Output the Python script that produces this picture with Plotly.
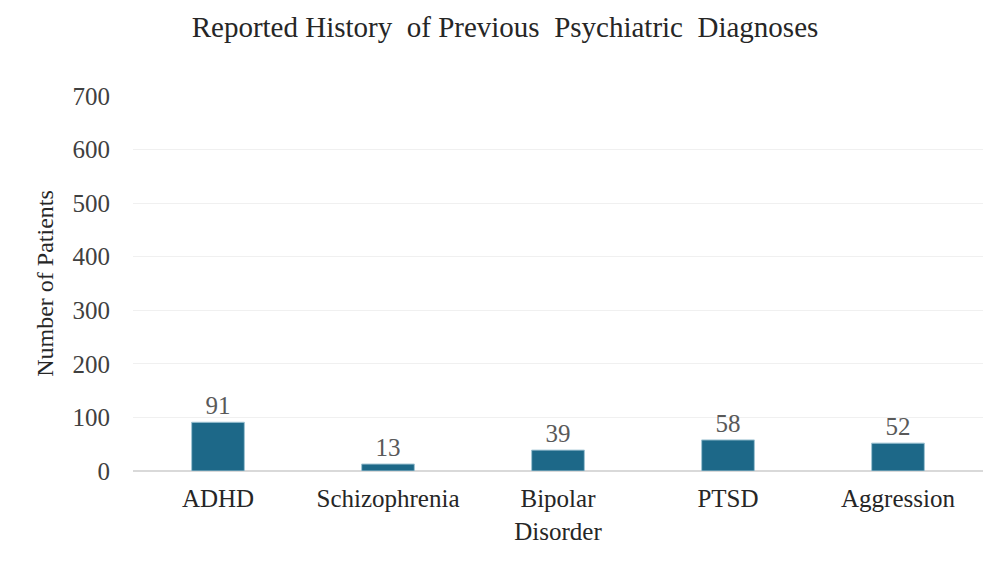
import plotly.graph_objects as go

categories = ["ADHD", "Schizophrenia", "Bipolar<br>Disorder", "PTSD", "Aggression"]
values = [91, 13, 39, 58, 52]
y_ticks = [0, 100, 200, 300, 400, 500, 600, 700]

fig = go.Figure(go.Bar(
    x=categories, y=values,
    marker=dict(color="#1d6888", line=dict(color="#9fc3d3", width=1)),
    width=0.31,
    text=[str(v) for v in values], textposition="outside",
    textfont=dict(family="Liberation Serif", size=25, color="#595959"),
    cliponaxis=False,
))

# page body has an 8px margin, so the figure is offset by 8px
fig.update_layout(
    width=994, height=555,
    margin=dict(l=125, r=19, t=88, b=92),
    paper_bgcolor="white", plot_bgcolor="white",
    title=dict(text="Reported History  of Previous  Psychiatric  Diagnoses",
               x=0.5, xanchor="center", y=0.966, yanchor="middle",
               font=dict(family="Liberation Serif", size=29, color="#262626")),
    font=dict(family="Liberation Serif", color="#262626"),
    showlegend=False,
)
fig.update_xaxes(tickfont=dict(size=25, color="#262626"), showline=False,
                 ticks="", showgrid=False, ticklabelstandoff=10)
fig.update_yaxes(range=[0, 700], tickvals=y_ticks, ticktext=[str(t) for t in y_ticks],
                 tickfont=dict(size=25, color="#404040"),
                 showgrid=True, gridcolor="#f0f0f0", gridwidth=1,
                 zeroline=True, zerolinecolor="#d9d9d9", zerolinewidth=1.5,
                 ticks="", ticklabelstandoff=22,
                 title=dict(text="Number of Patients", standoff=12,
                            font=dict(size=24, color="#262626")))

fig.write_html("out.html")
